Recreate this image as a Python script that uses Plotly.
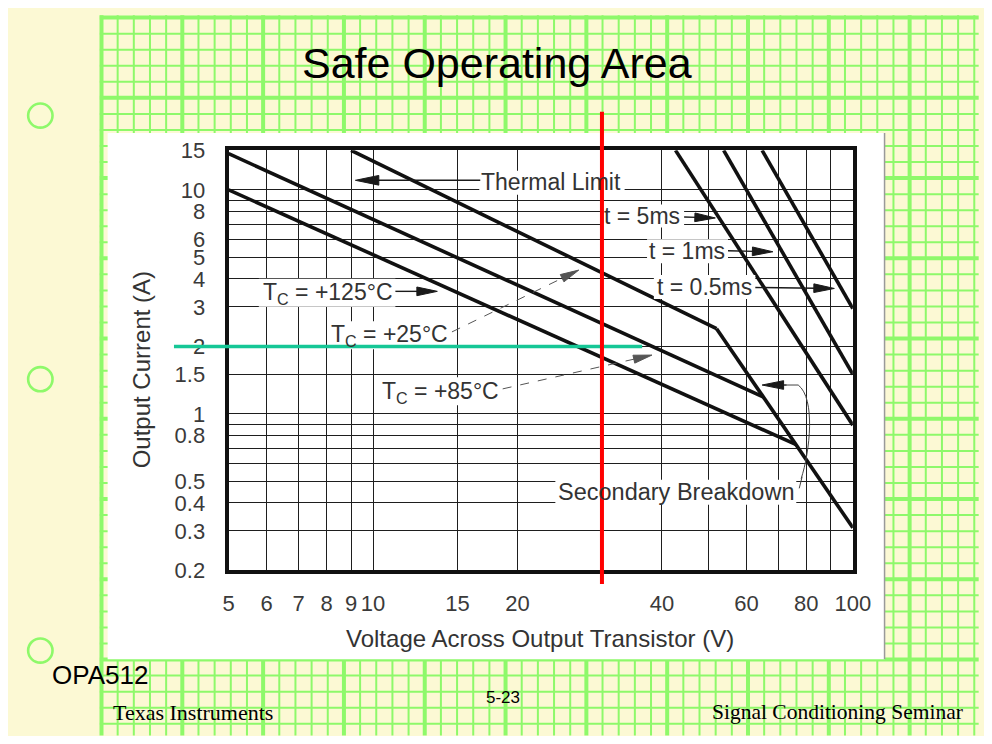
import math
import plotly.graph_objects as go

# The page keeps its default 8 px body margin; the figure is sized so that the
# page never overflows the 992x744 window (no scrollbars, no rescaling).
PAGE_W, PAGE_H = 992, 744
OX, OY = 8, 8
W, H = PAGE_W - 2 * OX, PAGE_H - 2 * OY

# ---------------- data ----------------
x_tick_vals = [5, 6, 7, 8, 9, 10, 15, 20, 40, 60, 80, 100]
x_tick_text = ["5", "6", "7", "8", "9", "10", "15", "20", "40", "60", "80", "100"]
x_extra_grid = [30, 50, 70, 90]
y_tick_vals = [0.2, 0.3, 0.4, 0.5, 0.8, 1, 1.5, 2, 3, 4, 5, 6, 8, 10, 15]
y_tick_text = ["0.2", "0.3", "0.4", "0.5", "0.8", "1", "1.5", "2", "3", "4", "5", "6", "8", "10", "15"]
y_extra_grid = [0.6, 0.7, 0.9, 7, 9]

tc25_v = [9.0, 52.0]
tc25_i = [15.0, 2.4]
tc85_v = [5.0, 65.0]
tc85_i = [14.5, 1.19]
tc125_v = [5.0, 76.0]
tc125_i = [10.0, 0.73]
sb_v = [52.0, 100.0]
sb_i = [2.4, 0.31]
t5ms_v = [42.7, 100.0]
t5ms_i = [15.0, 0.89]
t1ms_v = [53.8, 100.0]
t1ms_i = [15.0, 1.5]
t05ms_v = [64.7, 100.0]
t05ms_i = [15.0, 2.95]

marker_voltage = 30   # red vertical marker (V)
marker_current = 2    # green horizontal marker (A)

# ---------------- styling ----------------
CREAM = "#FCF9D4"
GREEN = "#8EF96A"
SANS = "Liberation Sans, Arial, sans-serif"
SERIF = "Liberation Serif, Times New Roman, serif"
TXT = "#333333"
INK = "#1a1a1a"


def px(x):
    return (x - OX) / W


def py(y):
    return 1 - (y - OY) / H


def P(x, y):
    return f"{px(x):.5f},{py(y):.5f}"


fig = go.Figure()

curves = [
    (tc25_v, tc25_i), (tc85_v, tc85_i), (tc125_v, tc125_i), (sb_v, sb_i),
    (t5ms_v, t5ms_i), (t1ms_v, t1ms_i), (t05ms_v, t05ms_i),
]
for v, i in curves:
    fig.add_trace(go.Scatter(x=v, y=i, mode="lines", line=dict(color="#111111", width=3.6),
                             hoverinfo="skip", showlegend=False))

# ---------------- slide background (decoration) ----------------
shapes = []
GX0, GY0, SX, SY = 97.7, 5.5, 16.57, 16.62
k = 0
while GX0 + k * SX <= PAGE_W + 2:
    x = GX0 + k * SX
    shapes.append(dict(type="line", xref="paper", yref="paper", x0=px(x), x1=px(x), y0=py(PAGE_H + 5), y1=py(3),
                       line=dict(color=GREEN, width=4 if k % 5 == 0 else 2), layer="below"))
    k += 1
k = 0
while GY0 + k * SY <= PAGE_H + 2:
    y = GY0 + k * SY
    shapes.append(dict(type="line", xref="paper", yref="paper", x0=px(96), x1=px(PAGE_W + 5), y0=py(y), y1=py(y),
                       line=dict(color=GREEN, width=4 if k % 5 == 0 else 2), layer="below"))
    k += 1
# white chart picture
shapes.append(dict(type="rect", xref="paper", yref="paper", x0=px(104), x1=px(901), y0=py(670), y1=py(125),
                   fillcolor="white", line=dict(width=0), layer="below"))
shapes.append(dict(type="line", xref="paper", yref="paper", x0=px(900.5), x1=px(900.5), y0=py(670), y1=py(125),
                   line=dict(color="#9a9a9a", width=1.5), layer="below"))
# binder holes
for cy in (107, 380, 661):
    shapes.append(dict(type="circle", xref="paper", yref="paper", x0=px(35 - 12.5), x1=px(35 + 12.5),
                       y0=py(cy + 12.5), y1=py(cy - 12.5), line=dict(color=GREEN, width=2.6), layer="below"))

# white boxes behind the chart labels (they interrupt the grid, as in the picture)
masks = [
    (485, 164, 634, 189), (610, 199, 695, 223), (657, 235, 740, 260), (664, 272, 768, 297),
    (259, 276, 399, 305), (330, 320, 456, 349), (382, 378, 508, 407), (563, 484, 810, 510),
]
for x0, y0, x1, y1 in masks:
    shapes.append(dict(type="rect", xref="paper", yref="paper", x0=px(x0), x1=px(x1), y0=py(y1), y1=py(y0),
                       fillcolor="white", line=dict(width=0), layer="above"))


def arrow(frm, tip, L=21, hw=4.5, width=1.4, color=INK, dash=None):
    dx, dy = tip[0] - frm[0], tip[1] - frm[1]
    n = math.hypot(dx, dy)
    ux, uy = dx / n, dy / n
    bx, by = tip[0] - L * ux, tip[1] - L * uy
    line = dict(color=color, width=width)
    if dash:
        line["dash"] = dash
    shapes.append(dict(type="line", xref="paper", yref="paper", x0=px(frm[0]), y0=py(frm[1]),
                       x1=px(bx + 2 * ux), y1=py(by + 2 * uy), line=line, layer="above"))
    c1 = (bx - hw * uy, by + hw * ux)
    c2 = (bx + hw * uy, by - hw * ux)
    shapes.append(dict(type="path", xref="paper", yref="paper",
                       path=f"M {P(*tip)} L {P(*c1)} L {P(*c2)} Z",
                       fillcolor=color, line=dict(color=color, width=1), layer="above"))


arrow((486, 174), (358, 174), L=24, hw=5)
arrow((695, 212), (727, 213))
arrow((740, 247), (786, 248))
arrow((768, 285), (849, 286))
arrow((399, 289), (442, 289))
arrow((457, 331), (587, 267), L=19, hw=4.2, width=1, color="#555555", dash="dash")
arrow((509, 390), (662, 355), L=19, hw=4.2, width=1, color="#555555", dash="dash")

# curved leader of "Secondary Breakdown" and its arrowhead
shapes.append(dict(type="path", xref="paper", yref="paper",
                   path=f"M {P(813, 493)} L {P(816, 481)} M {P(815, 483)} C {P(824, 455)} {P(830, 400)} {P(812, 386)} L {P(797, 386)}",
                   line=dict(color="#444444", width=1), layer="above"))
arrow((800, 386), (775, 386), L=22, hw=4.5, width=1)

# marker lines (green first, red on top)
shapes.append(dict(type="line", xref="paper", yref="y", x0=px(172), x1=px(652),
                   y0=marker_current, y1=marker_current, line=dict(color="#16C796", width=3.5), layer="above"))
shapes.append(dict(type="line", xref="x", yref="paper", x0=marker_voltage, x1=marker_voltage,
                   y0=py(592), y1=py(103), line=dict(color="#FF0000", width=4), layer="above"))

# ---------------- texts ----------------
anns = []


def text(t, cx, cy, size=23, color=TXT, family=SANS, xanchor="center", **kw):
    d = dict(text=t, xref="paper", yref="paper", x=px(cx), y=py(cy), showarrow=False,
             xanchor=xanchor, yanchor="middle", font=dict(family=family, size=size, color=color))
    d.update(kw)
    anns.append(d)


text("Thermal Limit", 559, 176)
text("t = 5ms", 652, 211)
text("t = 1ms", 698, 247)
text("t = 0.5ms", 716, 284)
text("T<sub>C</sub> = +125°C", 330, 291)
text("T<sub>C</sub> = +25°C", 393, 335)
text("T<sub>C</sub> = +85°C", 445, 394)
text("Secondary Breakdown", 687, 497, size=23.5)

text("Voltage Across Output Transistor (V)", 547, 649, size=24)
text("Output Current (A)", 139, 370, size=24, textangle=-90)

text("Safe Operating Area", 503, 53, size=43, color="black")
text("OPA512", 96.5, 686, size=26, color="black")
text("5-23", 509, 710, size=17, color="black")
text("Texas Instruments", 107, 725, size=22, color="black", family=SERIF, xanchor="left")
text("Signal Conditioning Seminar", 983, 725, size=21.5, color="black", family=SERIF, xanchor="right")

tickfont = dict(family=SANS, size=22, color="#3a3a3a")
fig.update_layout(
    width=W, height=H, margin=dict(l=0, r=0, t=0, b=0),
    paper_bgcolor=CREAM, plot_bgcolor="white",
    shapes=shapes, annotations=anns, showlegend=False,
    xaxis=dict(type="log", domain=[px(228), px(868)], range=[math.log10(5), 2],
               tickmode="array", tickvals=x_tick_vals, ticktext=x_tick_text, ticks="",
               showgrid=True, gridcolor="#1e1e1e", gridwidth=1.3, zeroline=False,
               showline=True, mirror=True, linecolor="#111111", linewidth=4,
               tickfont=tickfont, ticklabelstandoff=10,
               minor=dict(tickmode="array", tickvals=x_extra_grid, showgrid=True,
                          gridcolor="#1e1e1e", gridwidth=1.3, ticks="")),
    yaxis=dict(type="log", domain=[py(578), py(143)], range=[math.log10(0.2), math.log10(15)],
               tickmode="array", tickvals=y_tick_vals, ticktext=y_tick_text, ticks="",
               showgrid=True, gridcolor="#1e1e1e", gridwidth=1.3, zeroline=False,
               showline=True, mirror=True, linecolor="#111111", linewidth=4,
               tickfont=tickfont, ticklabelstandoff=15,
               minor=dict(tickmode="array", tickvals=y_extra_grid, showgrid=True,
                          gridcolor="#1e1e1e", gridwidth=1.3, ticks="")),
)

fig.write_html("out.html", config={"displayModeBar": False})
